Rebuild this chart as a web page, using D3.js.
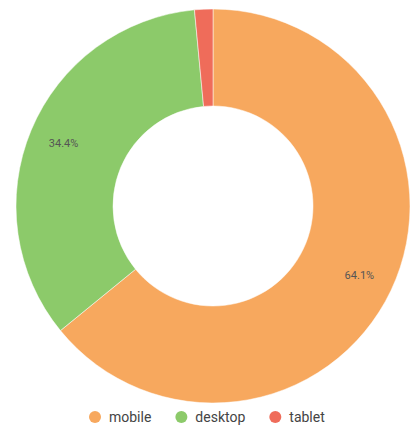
<!DOCTYPE html>
<html>
<meta charset="utf-8" />
<script src="https://cdn.jsdelivr.net/npm/d3@7"></script>
<style>
  html, body { margin: 0; background: #fff; }
  body { font-family: Roboto, sans-serif; }
  .label { font-size: 11px; fill: #555; }
  .legend text { font-size: 14px; fill: #444; }
</style>
<body>
<div id="chart"></div>
<script>
  var categories = ['mobile', 'desktop', 'tablet'];
  var shares = [64.1, 34.4, 1.5];
  var colors = ['#f7a85e', '#8cca6a', '#ef6c5a'];

  var width = 417, height = 433;
  var cx = 213, cy = 206, outer = 197, inner = 100;

  var svg = d3.select('#chart').append('svg')
    .attr('width', width).attr('height', height);

  var data = categories.map(function (c, i) { return { name: c, value: shares[i] }; });
  var color = d3.scaleOrdinal().domain(categories).range(colors);

  var pie = d3.pie().sort(null).value(function (d) { return d.value; });
  var arc = d3.arc().innerRadius(inner).outerRadius(outer);
  var labelArc = d3.arc().innerRadius(162).outerRadius(162);

  var g = svg.append('g').attr('transform', 'translate(' + cx + ',' + cy + ')');

  g.selectAll('path')
    .data(pie(data))
    .enter().append('path')
    .attr('d', arc)
    .attr('fill', function (d) { return color(d.data.name); })
    .attr('stroke', '#fff')
    .attr('stroke-width', 0.5);

  g.selectAll('text.label')
    .data(pie(data).filter(function (d) { return d.data.value > 5; }))
    .enter().append('text')
    .attr('class', 'label')
    .attr('text-anchor', 'middle')
    .attr('dy', '0.35em')
    .attr('transform', function (d) { return 'translate(' + labelArc.centroid(d) + ')'; })
    .text(function (d) { return d.data.value.toFixed(1) + '%'; });

  // legend, laid out one after the other by text width
  var legend = svg.append('g').attr('class', 'legend');
  var x = 95;
  categories.forEach(function (c) {
    var item = legend.append('g').attr('transform', 'translate(' + x + ',417)');
    item.append('circle').attr('r', 6).attr('fill', color(c));
    var t = item.append('text').attr('x', 14).attr('dy', '0.35em').text(c);
    x += 14 + t.node().getComputedTextLength() + 30;
  });
</script>
</body>
</html>
